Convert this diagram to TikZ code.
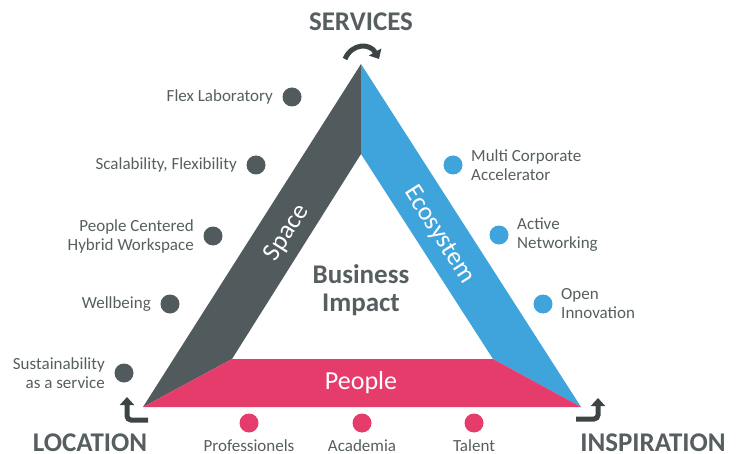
\documentclass[tikz,border=0pt]{standalone}
\usepackage{fontspec}
\setmainfont{Carlito}
\usetikzlibrary{arrows.meta,positioning}
\definecolor{slate}{HTML}{515A5C}
\definecolor{sky}{HTML}{3FA3DC}
\definecolor{rose}{HTML}{E63C6C}
\definecolor{ink}{HTML}{565E60}
\definecolor{turnink}{HTML}{3E4345}

\begin{document}
\begin{tikzpicture}[x=1pt,y=-1pt,
  dot/.style={circle,minimum size=19pt,inner sep=0pt},
  item/.style={text=ink,font=\fontsize{17}{19}\selectfont},
  corner/.style={text=ink,inner sep=0pt,font=\bfseries\fontsize{27}{30}\selectfont},
  band/.style={text=white,inner sep=1pt,font=\fontsize{26}{28}\selectfont},
  turn/.style={line width=5pt,draw=turnink,-{Triangle[length=8pt,width=14pt]}}]
\useasboundingbox (0,0) rectangle (743,454);
\coordinate (A) at (361,64);
\coordinate (Ai) at (361,154);
\coordinate (L) at (143,407);
\coordinate (Li) at (232,359);
\coordinate (R) at (581,407);
\coordinate (Ri) at (493,359);
\fill[slate] (A) -- (Ai) -- (Li) -- (L) -- cycle;
\fill[sky] (A) -- (R) -- (Ri) -- (Ai) -- cycle;
\fill[rose] (L) -- (Li) -- (Ri) -- (R) -- cycle;

\node[band,rotate=57.6] (space) at (287,233) {Space};
\node[band,rotate=-57.6] (eco) at (439,235) {Ecosystem};
\node[band] (people) at (361,383) {People};
\node[text=ink,font=\bfseries\fontsize{27}{28}\selectfont,align=center] (impact) at (361,290) {Business\\Impact};

\node[corner] (services) at (361,22) {SERVICES};
\node[corner] (location) at (90,443) {LOCATION};
\node[corner] (inspiration) at (653,443) {INSPIRATION};

\foreach \x/\y/\t [count=\n] in {292/97/Flex Laboratory,256/165/{Scalability, Flexibility},213/236/{People Centered\\Hybrid Workspace},170/304/Wellbeing,124/373/{Sustainability\\as a service}}{
  \node[dot,fill=slate] (S\n) at (\x,\y) {};
  \node[item,align=right,left=6pt of S\n] (SL\n) {\t};
}
\foreach \x/\y/\t [count=\n] in {453/165/{Multi Corporate\\Accelerator},499/235/{Active\\Networking},543/304/{Open\\Innovation}}{
  \node[dot,fill=sky] (E\n) at (\x,\y) {};
  \node[item,align=left,right=5pt of E\n] (EL\n) {\t};
}
\foreach \x/\t [count=\n] in {249/Professionels,362/Academia,474/Talent}{
  \node[dot,fill=rose] (P\n) at (\x,423) {};
  \node[item,below=3pt of P\n] (PL\n) {\t};
}

\coordinate (t1) at (345,59);
\coordinate (t2) at (379,59);
\coordinate (l1) at (148,420);
\coordinate (l2) at (127,397);
\coordinate (r1) at (576,419);
\coordinate (r2) at (598,398);
\draw[turn] (t1) .. controls (352,43) and (370,43) .. (t2);
\draw[turn,rounded corners=4pt] (l1) -| (l2);
\draw[turn,rounded corners=4pt] (r1) -| (r2);
\end{tikzpicture}
\end{document}
